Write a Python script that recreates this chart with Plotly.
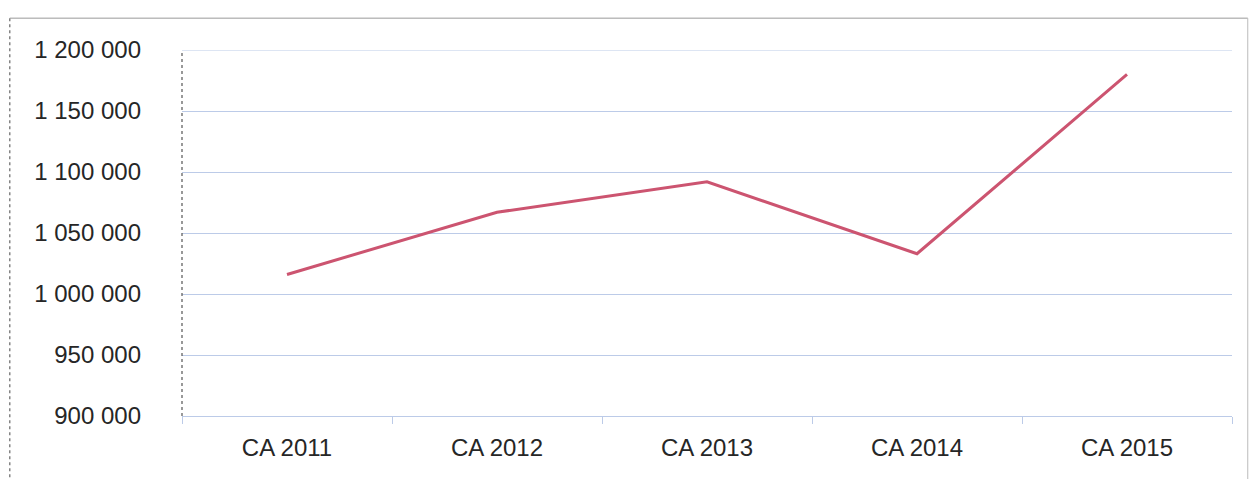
import plotly.graph_objects as go

# Chiffre d'affaires annuel
categories = ["CA 2011", "CA 2012", "CA 2013", "CA 2014", "CA 2015"]
revenue = [1016000, 1067000, 1092000, 1033000, 1180000]

y_tick_values = [900000, 950000, 1000000, 1050000, 1100000, 1150000, 1200000]
y_tick_labels = ["900 000", "950 000", "1 000 000", "1 050 000",
                 "1 100 000", "1 150 000", "1 200 000"]

font_family = "Liberation Sans, Arial, sans-serif"
grid_color = "#bccbe8"
text_color = "#262626"

fig = go.Figure()
fig.add_trace(go.Scatter(
    x=categories,
    y=revenue,
    mode="lines",
    line=dict(color="#cc5470", width=3),
    hoverinfo="x+y",
))

fig.update_layout(
    width=1252,
    height=479,
    margin=dict(l=182, r=20, t=50, b=63),
    paper_bgcolor="white",
    plot_bgcolor="white",
    showlegend=False,
    font=dict(family=font_family, size=22, color=text_color),
    xaxis=dict(
        type="category",
        range=[-0.5, 4.5],
        showgrid=False,
        showline=True,
        linecolor=grid_color,
        linewidth=1,
        ticks="outside",
        tickson="boundaries",
        ticklen=7,
        tickcolor=grid_color,
        ticklabelstandoff=10,
        tickfont=dict(size=24, color=text_color),
        zeroline=False,
    ),
    yaxis=dict(
        range=[900000, 1200000],
        tickvals=y_tick_values,
        ticktext=y_tick_labels,
        showgrid=True,
        gridcolor=grid_color,
        gridwidth=1,
        showline=False,
        ticks="",
        ticklabelstandoff=40,
        tickfont=dict(size=24, color=text_color),
        zeroline=False,
    ),
    shapes=[
        # top gridline at the upper bound of the value axis
        dict(type="line", xref="paper", yref="y", x0=0, x1=1,
             y0=1200000, y1=1200000, line=dict(color=grid_color, width=1)),
        # dotted vertical axis line
        dict(type="line", xref="paper", yref="paper", x0=0, x1=0, y0=0, y1=1.0,
             line=dict(color="#555555", width=1.2, dash="dot")),
        # chart area border
        dict(type="line", xref="paper", yref="paper", x0=-0.164, x1=-0.164,
             y0=-0.2, y1=1.087, line=dict(color="#666666", width=1.2, dash="dot")),
        dict(type="line", xref="paper", yref="paper", x0=-0.164, x1=1.015,
             y0=1.087, y1=1.087, line=dict(color="#999999", width=1)),
        dict(type="line", xref="paper", yref="paper", x0=1.015, x1=1.015,
             y0=-0.2, y1=1.087, line=dict(color="#bbbbbb", width=1)),
    ],
)

fig.write_html("out.html")
